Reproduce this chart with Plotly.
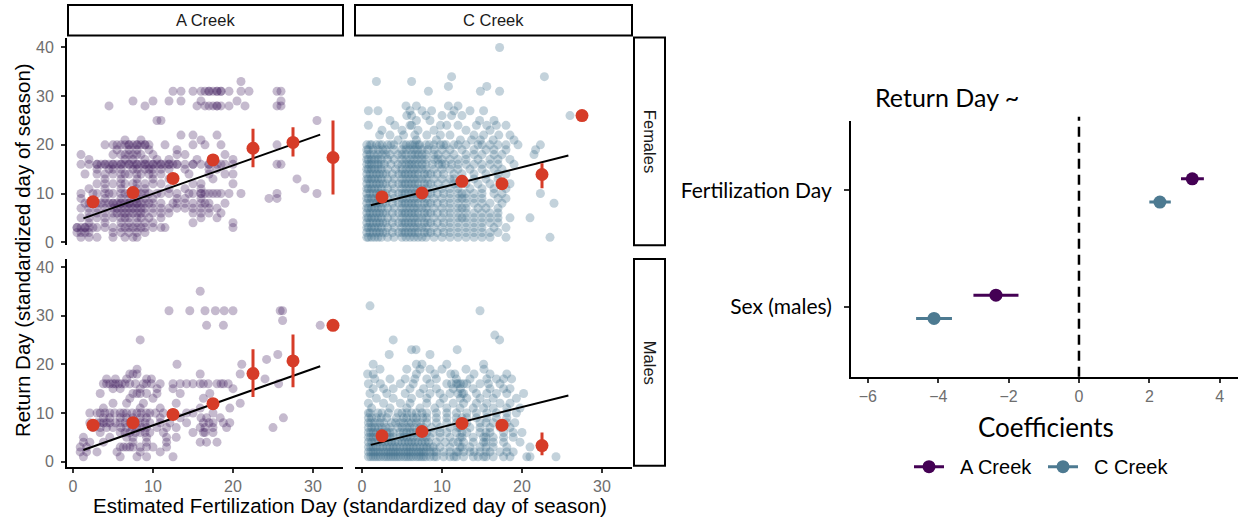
import plotly.graph_objects as go

W, H = 1238, 527

# ---------------- data ----------------
# scatter rows: (return day, [fertilization days])
af_rows = [
    (33, [21]),
    (31, [12.5, 13.5, 15, 16, 16.5, 17, 17.5, 18, 18.5, 19.5, 21, 22, 25.5, 26]),
    (29, [7.5, 10, 12, 13.5, 16, 20.5, 26]),
    (28, [4.5, 9, 15.5, 16.5, 17.5, 18, 18.5, 19.5, 21.5, 25.5, 26]),
    (25, [10.5, 11, 30.5]),
    (22, [13.5, 15, 18]),
    (21, [6.5, 8.5, 16]),
    (20, [4, 5.5, 6.5, 7, 7.5, 8, 8.5, 9, 9.5, 11.5, 15, 16.5, 18.5, 25.5]),
    (19, [5.5, 7, 8, 9.5, 13]),
    (18, [1, 5, 6, 7, 8.5, 10, 13, 14, 19]),
    (17, [2, 6.5, 7.5, 9, 10.5, 12, 15.5, 20]),
    (16, [1, 2, 3, 3.5, 4, 4.5, 5, 5.5, 6, 6.5, 7, 7.5, 8, 8.5, 9, 9.5, 10, 10.5,
          11, 11.5, 12, 12.5, 13, 14, 15, 16, 17, 18, 19, 20, 25.5, 26]),
    (15, [3, 4.5, 6, 7.5, 9, 10, 11, 14, 17, 18]),
    (14, [1.5, 3, 5, 6, 7, 8, 9.5, 11, 14.5, 17, 19, 20]),
    (13, [4, 6, 8, 10, 12, 17.5, 28]),
    (12, [3, 5, 6.5, 7.5, 9, 11, 15, 16, 20]),
    (11, [2, 4, 6, 8, 9, 12, 14, 16, 29]),
    (10, [1, 2.5, 4, 5, 6, 7, 7.5, 8, 9, 10.5, 12, 13, 14.5, 15, 16, 16.5, 17, 18,
          18.5, 19.5, 21, 25.5, 30.5]),
    (9, [1, 4, 6, 7, 8, 9, 10, 13, 14, 16, 24.5, 25.5]),
    (8, [1.5, 2, 3, 4, 4.5, 5, 5.5, 6, 6.5, 7, 7.5, 8, 8.5, 9, 10, 11, 12.5, 14, 16, 17, 19]),
    (7, [1, 3, 4, 5, 6, 7, 8, 9, 10, 11, 13, 15, 16, 17, 18]),
    (6, [2, 4, 5.5, 6.5, 7, 8, 9, 10, 12, 15, 16, 17, 18.5]),
    (5, [1, 3, 5, 6, 7, 8.5, 9.5, 11, 16, 18]),
    (4, [2, 4, 6, 7, 8, 9, 10, 15, 20]),
    (3, [0.5, 1, 1.5, 2, 3, 4, 5, 6, 7, 7.5, 8, 9, 10, 11, 11.5, 20]),
    (2, [0.5, 1, 1.5, 2, 5, 6, 7, 8, 9]),
    (1, [1, 2, 3, 5, 6.5, 7.5, 8]),
]
af_extra = [
    (31, [17, 18, 18.5]),
    (28, [17, 18]),
    (20, [5, 6, 7, 8, 9]),
    (18, [6.5, 7.5, 8]),
    (16, [3, 4, 5, 6, 7, 8, 9, 10, 11, 12, 13, 15, 17, 18.5]),
    (15, [5, 8, 9.5, 12]),
    (14, [4, 6.5, 8.5, 10]),
    (12, [4, 6, 8, 10]),
    (10, [3, 4.5, 6.5, 8.5, 9.5, 11, 16, 17.5]),
    (8, [2.5, 3.5, 5, 6, 7, 8, 9.5, 13, 15, 16.5]),
    (7, [2, 5.5, 6.5, 7.5, 8.5, 12, 14]),
    (6, [3, 5, 6, 7.5, 8.5, 11]),
    (5, [2, 4, 6.5, 8]),
    (3, [0.5, 1.5, 2.5, 6.5, 8.5]),
]

cf_rows = [
    (40, [17.2]),
    (34, [11.2, 22.8]),
    (33, [1.8, 6.2]),
    (32, [10.8, 15.6]),
    (31, [8.3, 14.8, 17.2]),
    (28, [5.5, 6.8, 10.8, 12]),
    (27, [0.8, 2, 6, 7.5, 8.7, 11.5, 13.5, 15.2]),
    (26, [5.6, 6.2, 8, 10, 11.2, 12.5, 26]),
    (25, [3.5, 6.8, 8.5, 14.7, 16.5]),
    (24, [0.8, 4.1, 6, 6.2, 9.8, 10.6, 12, 14.3, 15.6, 16.8, 18]),
    (23, [2.5, 5, 7, 9, 13, 16]),
    (22, [2.2, 3.5, 5.2, 6.6, 8.1, 9.8, 11, 14, 15.2, 17.1, 18.5]),
    (21, [4.5, 6.8, 9.3, 12.3, 13.7, 14.8, 16.4, 19]),
    (20, [0.6, 1.2, 1.8, 2.5, 3.2, 4, 5.5, 6, 6.6, 7.2, 8, 9, 9.8, 10.5, 11.5, 12, 13,
          14.5, 15, 16, 17, 18, 19.5, 22.3]),
    (19, [0.8, 2, 3, 4, 5.5, 6.5, 7.5, 9, 10, 11, 12.5, 14, 15.5, 16.5, 18, 21.7]),
    (18, [0.6, 1.5, 2.5, 3.5, 4.5, 5.5, 6.2, 7, 8, 9, 10.5, 11.5, 13, 14, 15, 16.5, 17.5, 21.5]),
    (17, [0.8, 1.6, 2.4, 3.2, 4, 5, 6, 7, 8, 9, 10, 11, 12, 13, 14.5, 16, 17, 18.5]),
    (16, [0.6, 1.2, 2, 2.8, 3.6, 4.5, 5.5, 6.2, 7, 8, 8.8, 9.6, 10.4, 11.2, 12, 13, 14,
          15, 16, 17, 19]),
    (15, [0.8, 1.6, 2.4, 3.2, 4.2, 5, 6, 7, 8, 9, 10, 11, 12, 13.5, 15, 16.5, 17.5]),
    (14, [0.6, 1.4, 2.2, 3, 3.8, 4.6, 5.4, 6.2, 7, 7.8, 8.6, 9.4, 10.2, 11.5, 12.5, 14,
          15.5, 17, 18]),
    (13, [0.8, 1.6, 2.4, 3.2, 4, 5, 6, 7, 8, 9, 10, 11, 12.5, 14, 15.5, 17]),
    (12, [0.6, 1.4, 2.2, 3, 3.8, 4.6, 5.4, 6.2, 7, 7.8, 8.6, 9.5, 10.5, 11.5, 13, 14.5,
          16, 17.5, 18.5]),
    (11, [0.8, 1.6, 2.4, 3.2, 4, 5, 6, 7, 8, 9, 10, 11, 12, 13.5, 15, 16.5, 18]),
    (10, [0.6, 1.4, 2.2, 3, 3.8, 4.6, 5.4, 6.2, 7, 7.8, 8.6, 9.4, 10.2, 11, 12, 13, 14,
          15, 16.5, 17.5, 22.3]),
    (9, [0.8, 1.6, 2.4, 3.2, 4, 5, 6, 7, 8, 9, 10, 11, 12, 13, 14, 15, 17, 18]),
    (8, [0.6, 1.4, 2.2, 3, 3.8, 4.6, 5.4, 6.2, 7, 7.8, 8.6, 9.4, 10.2, 11, 12, 13, 14,
         15, 16, 17.5, 24]),
    (7, [0.8, 1.6, 2.4, 3.2, 4, 5, 6, 7, 8, 9, 10, 11, 12, 13, 14.5, 15.5, 17]),
    (6, [0.6, 1.4, 2.2, 3, 3.8, 4.6, 5.4, 6.2, 7, 7.8, 8.6, 9.4, 10.2, 11, 12, 13, 14, 15, 16, 17]),
    (5, [0.8, 1.6, 2.4, 3.2, 4, 5, 6, 7, 8, 9, 10, 11, 12, 13, 14, 15, 16, 17, 18.5, 21]),
    (4, [0.6, 1.4, 2.2, 3, 3.8, 4.6, 5.4, 6.2, 7, 7.8, 8.6, 9.4, 10.2, 11, 12, 13, 14, 15, 16, 17]),
    (3, [0.8, 1.6, 2.4, 3.2, 4, 5, 6, 7, 8, 9, 10, 11, 12, 13, 14, 15, 16.5, 18]),
    (2, [0.6, 1.4, 2.2, 3, 3.8, 4.6, 5.4, 6.2, 7, 7.8, 8.6, 9.4, 10.2, 11, 12, 13, 14, 15, 16, 17]),
    (1, [0.8, 1.6, 2.4, 3.2, 4, 5, 6, 7, 8, 9, 10, 11, 12, 13, 14, 15, 16, 18, 23.5]),
]
cf_extra = [
    (20, [1, 2.2, 3.6, 5.2, 6.3, 7, 8.4, 10.2]),
    (19, [0.6, 1.4, 2.6, 5, 6, 7, 8.2]),
    (18, [1, 2, 3, 5, 6.6, 7.5, 9.5]),
    (17, [0.6, 1.2, 2, 5.5, 6.5, 7.5, 9.5]),
    (16, [0.9, 1.6, 2.4, 5, 5.9, 6.6, 7.5, 10]),
    (15, [0.6, 1.2, 2, 5.5, 6.5, 7.5]),
    (14, [1, 1.8, 2.6, 5, 5.8, 6.6, 8.2]),
    (13, [0.6, 1.2, 2, 5.5, 6.5, 7.5, 11.5]),
    (12, [1, 1.8, 2.6, 5, 5.8, 6.6, 8.2, 12]),
    (11, [0.6, 1.2, 2, 5.5, 6.5, 7.5]),
    (10, [1, 1.8, 2.6, 5, 5.8, 6.6, 8.2, 12.5]),
    (9, [0.6, 1.2, 2, 5.5, 6.5, 7.5, 12.5]),
    (8, [1, 1.8, 2.6, 5, 5.8, 6.6, 8.2]),
    (7, [0.6, 1.2, 2, 5.5, 6.5, 7.5, 12.5]),
    (6, [1, 1.8, 2.6, 5, 5.8, 6.6, 8.2]),
    (5, [0.6, 1.2, 2, 5.5, 6.5, 7.5, 12.5]),
    (4, [1, 1.8, 2.6, 5, 5.8, 6.6, 8.2]),
    (3, [0.6, 1.2, 2, 5.5, 6.5, 7.5]),
    (2, [1, 1.8, 2.6, 5, 5.8, 6.6, 8.2]),
    (1, [0.6, 1.2, 2, 5.5, 6.5, 7.5]),
]

am_rows = [
    (35, [15.9]),
    (31, [12, 14.6, 16.5, 17.8, 18.9, 20, 25.9, 26.2]),
    (29, [26.2]),
    (28, [16.7, 18.8, 30.9]),
    (25, [8.4]),
    (22, [25.6]),
    (21, [24.2]),
    (20, [13, 21.1]),
    (19, [8]),
    (18, [7.1, 8, 15.9, 20.9]),
    (17, [4.2, 5.3, 6.7, 9.2, 9.8, 24]),
    (16, [3.8, 4.6, 5.3, 6.1, 7.1, 7.8, 8.8, 9.8, 10.9, 12.5, 13.4, 14.2, 15, 15.9, 16.9,
          18, 18.8, 19.4, 25.7]),
    (15, [5, 5.9, 8.4, 10.5, 12.5, 20]),
    (14, [3.4, 7.5, 8, 9.2, 10.5, 13.4, 17.1]),
    (13, [7.1, 10, 16.3]),
    (12, [5, 6.7, 8.8, 12.9, 17.5, 20.9]),
    (11, [3.8, 8.4, 10.9, 15.9, 19.6]),
    (10, [2.1, 3.4, 4.6, 5.9, 6.7, 8, 9.2, 10.3, 11.3, 12.5, 14.2, 15, 17.5]),
    (9, [3.8, 5.9, 7.5, 9.2, 10.9, 13.4, 16.7, 18.4, 26.3]),
    (8, [2.1, 3, 3.8, 4.6, 5.9, 7.1, 8.4, 9.6, 10.9, 12.1, 14.2, 16.3, 17.5, 18.8, 19.6]),
    (7, [2.5, 4.2, 5, 6.7, 8, 9.2, 10.5, 11.7, 12.9, 15.9, 17.5, 19.2, 25]),
    (6, [3.4, 5.9, 7.1, 8.4, 9.6, 11.3, 15, 16.3, 17.5]),
    (5, [1.3, 4.6, 6.7, 7.5, 9.2, 11.7, 12.9]),
    (4, [1.3, 2.1, 3.8, 7.5, 9.2, 11.7, 15.9, 16.7, 18]),
    (3, [0.9, 1.7, 5.9, 6.7, 7.5, 9.2, 10, 11.7]),
    (2, [0.9, 1.7, 3, 5.5, 8.4, 10.9]),
    (1, [1.3, 5.9, 8, 9.2, 12.5]),
]
am_extra = [
    (18, [7.5]),
    (16, [4.2, 5, 5.7, 6.5, 9.2, 16.3, 18.5]),
    (14, [8.4]),
    (10, [3, 4, 5.2, 6.3, 7.4, 8.5, 9.6]),
    (9, [4.6, 6.7, 8.4, 16]),
    (8, [3.4, 4.2, 5.3, 6.5, 7.8, 9, 17]),
    (7, [3.4, 6, 7.4, 8.6, 16.5]),
    (6, [6.5, 7.8, 9, 16.5]),
    (3, [6.3, 7.1, 8.4]),
]

cm_rows = [
    (32, [1]),
    (31, [14.75]),
    (26, [16.6]),
    (25, [3.9, 17.2]),
    (23, [6.2, 6.75, 11.9]),
    (22, [3.4, 8.5]),
    (20, [1.4, 6.8, 7.5, 10.6, 15.2]),
    (19, [2.25, 5.6, 7.25, 8.5, 10, 13, 15.25]),
    (18, [0.7, 1.4, 6.8, 9.1, 11.1, 11.6, 14, 16, 18.1]),
    (17, [1.6, 3.5, 5.4, 6.6, 8.1, 9.3, 11.8, 13.5, 15.6, 16.8, 17.7, 18.7]),
    (16, [0.8, 2.3, 4.8, 6.4, 8.5, 10.6, 11.2, 11.8, 12.3, 13.1, 14.75, 15.8, 17.25]),
    (15, [1.4, 2.7, 3.9, 6, 7.7, 9.3, 11.4, 12.3, 13.9, 16, 17.7, 18.5]),
    (14, [1, 3.1, 5.4, 7.25, 8.5, 9.75, 11, 12.7, 14.3, 15.6, 16.8, 18.1, 20.2]),
    (13, [1.8, 3.9, 6.2, 8.1, 10.2, 12.3, 13.1, 14.75, 16.4, 19.3]),
    (12, [0.8, 2.7, 4.8, 6, 8.1, 9.75, 11.4, 12.7, 14.3, 15.6, 17.25, 18.5]),
    (11, [1.2, 3.5, 5.6, 7.25, 9.1, 10.6, 12.25, 13.9, 15.2, 16.4, 18.1, 19.75]),
    (10, [0.8, 2, 3.3, 4.5, 5.6, 6.8, 8.1, 9.3, 10.6, 11.8, 13.1, 14.3, 15.6, 16.8, 18.1, 19.3]),
    (9, [0.8, 1.8, 3.1, 4.3, 5.6, 6.8, 8.1, 9.3, 10.6, 11.8, 13.1, 14.3, 15.6, 16.8, 18.1]),
    (8, [0.8, 1.6, 2.7, 3.7, 4.75, 5.8, 6.8, 8.1, 9.3, 10.6, 11.8, 13.1, 14.75, 16.4, 18.1, 19.1]),
    (7, [0.8, 1.6, 2.5, 3.5, 4.5, 5.6, 6.6, 7.7, 8.7, 9.75, 11, 12.25, 13.5, 14.75, 16, 17.25, 18.5]),
    (6, [0.8, 1.4, 2.25, 3.1, 3.9, 4.75, 5.6, 6.4, 7.25, 8.1, 8.9, 9.75, 10.6, 11.8, 13.1,
         14.75, 16, 17.7, 18.9, 20]),
    (5, [0.8, 1.4, 2.25, 3.1, 3.9, 4.75, 5.6, 6.4, 7.5, 8.5, 9.75, 11, 12.25, 13.9, 15.2,
         16.4, 17.7, 18.9]),
    (4, [0.8, 1.6, 2.5, 3.3, 4.1, 5, 5.8, 6.6, 7.5, 8.3, 9.3, 10.4, 11.4, 12.7, 13.9, 15.2,
         16.4, 17.7, 19.75]),
    (3, [0.8, 1.4, 2.25, 3.1, 3.9, 4.75, 5.6, 6.4, 7.25, 8.1, 8.9, 9.75, 11, 12.25, 13.5,
         14.75, 16.4, 18.1, 21]),
    (2, [0.8, 1.4, 2, 2.7, 3.3, 3.9, 4.5, 5.2, 5.8, 6.4, 7.1, 7.7, 8.5, 9.3, 10.2, 11, 11.8,
         12.7, 13.5, 14.75, 16, 17.25, 18.1, 18.9]),
    (1, [0.8, 1.4, 2, 2.7, 3.3, 3.9, 4.5, 5.2, 5.8, 6.4, 7.1, 7.7, 8.5, 9.3, 10.2, 11, 11.8,
         12.7, 13.9, 15.2, 16.4, 17.7, 18.5, 20.6, 21, 24.25]),
]
cm_extra = [
    (16, [12, 12.7]),
    (14, [12, 12.5]),
    (10, [1, 2.5, 5, 6.2, 7.5]),
    (9, [1.2, 2.4, 5.2, 6.4, 7.6, 12.5]),
    (8, [1.1, 2.2, 4.2, 5.2, 6.2, 7.3, 12.5, 15.5]),
    (7, [1.2, 2, 3, 5, 6, 7.2, 12]),
    (6, [1.1, 1.8, 2.6, 3.5, 5.2, 6, 6.8, 12.5, 15.5]),
    (5, [1.1, 1.8, 2.6, 3.5, 5.2, 6, 7, 8, 12.5, 15.5]),
    (4, [1.2, 2, 2.9, 3.7, 4.5, 5.4, 6.2, 7, 7.9, 12, 15.5]),
    (3, [1.1, 1.8, 2.6, 3.5, 4.3, 5.2, 6, 6.8, 7.7, 8.5, 12.5, 15.5]),
    (2, [1.1, 1.7, 2.3, 3, 3.6, 4.2, 4.8, 5.5, 6.1, 6.8, 7.4, 8, 9, 12, 14, 15.5]),
    (1, [1.1, 1.7, 2.3, 3, 3.6, 4.2, 4.8, 5.5, 6.1, 6.8, 7.4, 8, 9, 11.5, 14.5, 15.5]),
]

# binned means (red) : x bin centre, mean, lower, upper
af_bin_x = [2.5, 7.5, 12.5, 17.5, 22.5, 27.5, 32.5]
af_bin_y = [8.3, 10.2, 13.1, 16.9, 19.3, 20.5, 17.4]
af_bin_lo = [7.8, 9.7, 12.5, 16.0, 15.4, 17.6, 9.8]
af_bin_hi = [8.8, 10.7, 13.7, 17.8, 23.3, 23.6, 25.0]

cf_bin_x = [2.5, 7.5, 12.5, 17.5, 22.5, 27.5]
cf_bin_y = [9.3, 10.1, 12.5, 12.0, 13.9, 26.0]
cf_bin_lo = [8.9, 9.7, 12.0, 11.4, 11.1, 26.0]
cf_bin_hi = [9.7, 10.5, 13.0, 12.6, 16.2, 26.0]

am_bin_x = [2.5, 7.5, 12.5, 17.5, 22.5, 27.5, 32.5]
am_bin_y = [7.5, 8.0, 9.7, 11.9, 18.1, 20.7, 28.0]
am_bin_lo = [7.0, 7.5, 9.1, 10.6, 13.3, 15.3, 28.0]
am_bin_hi = [8.0, 8.5, 10.3, 12.9, 23.1, 26.1, 28.0]

cm_bin_x = [2.5, 7.5, 12.5, 17.5, 22.5]
cm_bin_y = [5.3, 6.2, 7.85, 7.5, 3.3]
cm_bin_lo = [4.9, 5.8, 7.3, 6.9, 1.3]
cm_bin_hi = [5.7, 6.6, 8.4, 8.1, 6.0]

# regression lines (endpoints)
af_fit_x, af_fit_y = [1.3, 30.9], [4.9, 22.1]
cf_fit_x, cf_fit_y = [1.1, 25.8], [7.6, 17.8]
am_fit_x, am_fit_y = [1.3, 30.9], [2.4, 19.6]
cm_fit_x, cm_fit_y = [1.1, 25.8], [3.45, 13.6]

# coefficient plot
coef_terms = ["Sex (males)", "Fertilization Day"]
coef_a_est = [-2.36, 3.22]
coef_a_lo = [-3.0, 2.9]
coef_a_hi = [-1.72, 3.55]
coef_c_est = [-4.12, 2.3]
coef_c_lo = [-4.63, 2.0]
coef_c_hi = [-3.61, 2.61]
creeks = ["A Creek", "C Creek"]

# ---------------- styling ----------------
PURPLE_PT = "rgba(62,26,94,0.30)"
BLUE_PT = "rgba(61,110,138,0.31)"
RED = "#d63c28"
A_COL = "#440154"
C_COL = "#4d7a91"
TICK_COL = "#6e6e6e"
FONT = "Liberation Sans"


def px_x(p):
    return p / W


def px_y(p):
    return 1 - p / H


def expand(*row_lists):
    xs, ys = [], []
    for rows in row_lists:
        for y, xl in rows:
            for x in xl:
                xs.append(x)
                ys.append(y)
    return xs, ys


fig = go.Figure()

panels = [
    ((af_rows, af_extra), PURPLE_PT, af_bin_x, af_bin_y, af_bin_lo, af_bin_hi, af_fit_x, af_fit_y, "x", "y"),
    ((cf_rows, cf_extra), BLUE_PT, cf_bin_x, cf_bin_y, cf_bin_lo, cf_bin_hi, cf_fit_x, cf_fit_y, "x2", "y2"),
    ((am_rows, am_extra), PURPLE_PT, am_bin_x, am_bin_y, am_bin_lo, am_bin_hi, am_fit_x, am_fit_y, "x3", "y3"),
    ((cm_rows, cm_extra), BLUE_PT, cm_bin_x, cm_bin_y, cm_bin_lo, cm_bin_hi, cm_fit_x, cm_fit_y, "x4", "y4"),
]

for rows, col, bx, by, blo, bhi, fx, fy, xa, ya in panels:
    sx, sy = expand(*rows)
    fig.add_trace(go.Scatter(x=sx, y=sy, mode="markers", xaxis=xa, yaxis=ya,
                             marker=dict(size=9, color=col, line=dict(width=0)),
                             showlegend=False, hoverinfo="skip"))
    fig.add_trace(go.Scatter(x=fx, y=fy, mode="lines", xaxis=xa, yaxis=ya,
                             line=dict(color="black", width=2), showlegend=False))
    fig.add_trace(go.Scatter(
        x=bx, y=by, mode="markers", xaxis=xa, yaxis=ya,
        marker=dict(size=13, color=RED, line=dict(width=0)),
        error_y=dict(type="data", symmetric=False,
                     array=[h - m for h, m in zip(bhi, by)],
                     arrayminus=[m - l for m, l in zip(by, blo)],
                     color=RED, thickness=3, width=0),
        showlegend=False))

# coefficient traces (dodged)
ypos = {t: i + 1 for i, t in enumerate(coef_terms)}
dodge = {"A Creek": 0.1, "C Creek": -0.1}
for name, est, lo, hi, colr in [("A Creek", coef_a_est, coef_a_lo, coef_a_hi, A_COL),
                                ("C Creek", coef_c_est, coef_c_lo, coef_c_hi, C_COL)]:
    fig.add_trace(go.Scatter(
        x=est, y=[ypos[t] + dodge[name] for t in coef_terms], mode="markers",
        xaxis="x5", yaxis="y5",
        marker=dict(size=13, color=colr),
        error_x=dict(type="data", symmetric=False,
                     array=[h - e for h, e in zip(hi, est)],
                     arrayminus=[e - l for e, l in zip(est, lo)],
                     color=colr, thickness=3, width=0),
        showlegend=False))
    # legend entry
    fig.add_trace(go.Scatter(x=[None], y=[None], mode="lines+markers",
                             name="\u00a0\u00a0" + name,
                             xaxis="x5", yaxis="y5",
                             marker=dict(size=13, color=colr),
                             line=dict(color=colr, width=3)))

# ---------------- axes ----------------
col1 = [px_x(67), px_x(343)]
col2 = [px_x(355), px_x(632)]
row1 = [px_y(248), px_y(38)]
row2 = [px_y(472), px_y(262)]

tickfont = dict(family=FONT, size=16, color=TICK_COL)
base_x = dict(showgrid=False, zeroline=False, tickvals=[0, 10, 20, 30], tickfont=tickfont,
              linecolor="black", linewidth=2, ticklen=4, tickwidth=1.5, tickcolor="#333333")
base_y = dict(showgrid=False, zeroline=False, tickvals=[0, 10, 20, 30, 40], tickfont=tickfont,
              linecolor="black", linewidth=2, ticklen=4, tickwidth=1.5, tickcolor="#333333",
              ticklabelstandoff=4)

fig.update_layout(
    xaxis=dict(base_x, domain=col1, range=[-0.75, 33.75], anchor="y",
               showline=False, showticklabels=False, ticks=""),
    yaxis=dict(base_y, domain=row1, range=[-0.61, 42.03], anchor="x",
               showline=True, ticks="outside"),
    xaxis2=dict(base_x, domain=col2, range=[-0.875, 33.75], anchor="y2",
                showline=False, showticklabels=False, ticks=""),
    yaxis2=dict(base_y, domain=row1, range=[-0.61, 42.03], anchor="x2",
                showline=False, showticklabels=False, ticks=""),
    xaxis3=dict(base_x, domain=col1, range=[-0.75, 33.75], anchor="y3",
                showline=True, ticks="outside"),
    yaxis3=dict(base_y, domain=row2, range=[-1.02, 41.62], anchor="x3",
                showline=True, ticks="outside"),
    xaxis4=dict(base_x, domain=col2, range=[-0.875, 33.75], anchor="y4",
                showline=True, ticks="outside"),
    yaxis4=dict(base_y, domain=row2, range=[-1.02, 41.62], anchor="x4",
                showline=False, showticklabels=False, ticks=""),
    xaxis5=dict(domain=[px_x(851), 1.0], range=[-6.48, 4.52], anchor="y5",
                tickvals=[-6, -4, -2, 0, 2, 4], showgrid=False, zeroline=False,
                showline=True, linecolor="black", linewidth=2, ticks="outside",
                ticklen=4, tickwidth=1.5, tickcolor="#333333",
                tickfont=dict(family=FONT, size=16, color=TICK_COL)),
    yaxis5=dict(domain=[px_y(381), px_y(122)], range=[0.4, 2.6], anchor="x5",
                tickvals=[ypos[t] for t in coef_terms], ticktext=coef_terms,
                showgrid=False, zeroline=False, showline=True, linecolor="black",
                linewidth=2, ticks="outside", ticklen=5, tickwidth=1.5, tickcolor="#333333",
                ticklabelstandoff=8,
                tickfont=dict(family="Lato", size=21, color="black")),
    width=W, height=H, margin=dict(l=0, r=0, t=0, b=0),
    paper_bgcolor="white", plot_bgcolor="white",
    showlegend=True,
    legend=dict(orientation="h", x=px_x(909), xanchor="left", y=px_y(472), yanchor="middle",
                font=dict(family=FONT, size=20, color="black"), bgcolor="rgba(0,0,0,0)",
                itemwidth=30, entrywidth=89, entrywidthmode="pixels"),
)

# ---------------- shapes (strips, zero line) ----------------
shapes = []
strip_line = dict(color="black", width=2)
for x0, x1 in [(68, 343), (355, 632)]:
    shapes.append(dict(type="rect", xref="paper", yref="paper", x0=px_x(x0), x1=px_x(x1),
                       y0=px_y(36), y1=px_y(5), line=strip_line, fillcolor="white", layer="below"))
for y0, y1 in [(38, 248), (262, 471)]:
    shapes.append(dict(type="rect", xref="paper", yref="paper", x0=px_x(634), x1=px_x(665),
                       y0=px_y(y1), y1=px_y(y0), line=strip_line, fillcolor="white", layer="below"))
shapes.append(dict(type="line", xref="x5", yref="y5 domain", x0=0, x1=0, y0=0, y1=1.015,
                   line=dict(color="black", width=2.5, dash="10px,6px")))
fig.update_layout(shapes=shapes)

# ---------------- annotations ----------------
ann = []
strip_font = dict(family=FONT, size=16.5, color="#1a1a1a")


def label(text, xp, yp, font, angle=0, xanchor="center"):
    ann.append(dict(text=text, x=px_x(xp), y=px_y(yp), xref="paper", yref="paper",
                    xanchor=xanchor, yanchor="middle", showarrow=False, font=font,
                    textangle=angle))


label("A Creek", 205.5, 20.5, strip_font)
label("C Creek", 493.5, 20.5, strip_font)
label("Females", 649.5, 143, strip_font, angle=90)
label("Males", 649.5, 366.5, strip_font, angle=90)
label("Return Day (standardized day of season)", 22, 253,
      dict(family=FONT, size=20.5, color="black"), angle=-90)
label("Estimated Fertilization Day (standardized day of season)", 350, 511,
      dict(family=FONT, size=20.5, color="black"))
label("Return Day ~", 873, 98, dict(family="Lato", size=25, color="black"), xanchor="left")
label("Coefficients", 1046, 432, dict(family="Lato", size=26, color="black"))
fig.update_layout(annotations=ann)

fig.write_html("out.html")
